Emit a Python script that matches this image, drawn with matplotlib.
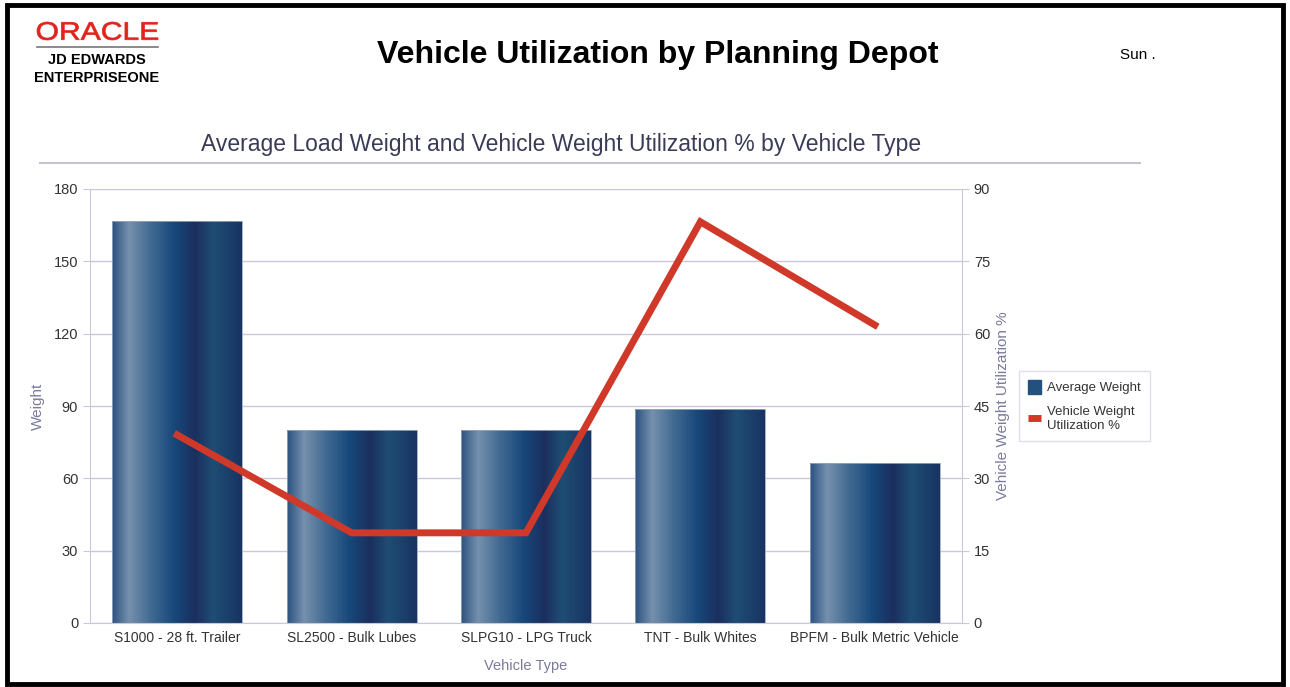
import numpy as np
import matplotlib.pyplot as plt
from matplotlib.colors import LinearSegmentedColormap
from matplotlib.patches import Rectangle, PathPatch
from matplotlib.lines import Line2D
from matplotlib.textpath import TextPath
from matplotlib.font_manager import FontProperties
from matplotlib.transforms import Affine2D

plt.rcParams['font.family'] = ['Liberation Sans', 'DejaVu Sans']

vehicle_types = ["S1000 - 28 ft. Trailer", "SL2500 - Bulk Lubes", "SLPG10 - LPG Truck",
                 "TNT - Bulk Whites", "BPFM - Bulk Metric Vehicle"]
avg_weight = [166.7, 80.0, 80.0, 88.8, 66.4]
utilization_pct = [39.0, 18.7, 18.7, 83.2, 61.8]
weight_ticks = [0, 30, 60, 90, 120, 150, 180]
util_ticks = [0, 15, 30, 45, 60, 75, 90]

grid_col = "#c9c9dc"
label_col = "#7a7a9c"
tick_col = "#333333"
line_col = "#d0392a"

# metallic blue shading across each bar
bar_cmap = LinearSegmentedColormap.from_list("bar", [
    (0.00, "#2b5280"), (0.13, "#7690ad"), (0.30, "#416a92"), (0.48, "#17487a"),
    (0.64, "#1b2f5e"), (0.78, "#1f4d74"), (1.00, "#183462")])

W, H = 1290, 687
fig = plt.figure(figsize=(W / 100, H / 100), dpi=100)


def px(xp, yp):
    return xp / W, 1 - yp / H


# page frame
fig.patches.append(Rectangle((7 / W, 3 / H), 1276 / W, 679 / H, transform=fig.transFigure,
                             fill=False, edgecolor="black", linewidth=3.5))

# logo wordmark, stretched wide (pixel coords)
logo = TextPath((0, 0), "ORACLE", size=24, prop=FontProperties(family="Liberation Sans"))
bb = logo.get_extents()
logo_tf = Affine2D().translate(-bb.x0, -bb.y0).scale(121 / bb.width, 18 / bb.height).translate(37, H - 40)
fig.patches.append(PathPatch(logo, transform=logo_tf, facecolor="#e2231a",
                             edgecolor="#e2231a", linewidth=0.5))
fig.add_artist(Line2D([37 / W, 158 / W], [1 - 47 / H] * 2, color="#777777", lw=1.2))
fig.text(*px(97, 60), "JD EDWARDS", fontsize=10.5, fontweight="bold", ha="center", va="center")
fig.text(*px(97, 78), "ENTERPRISEONE", fontsize=10.5, fontweight="bold", ha="center", va="center")
fig.text(*px(658, 55), "Vehicle Utilization by Planning Depot", fontsize=23,
         fontweight="bold", ha="center", va="center")
fig.text(*px(1120, 55), "Sun .", fontsize=11, ha="left", va="center")

fig.text(*px(561, 145),
         "Average Load Weight and Vehicle Weight Utilization % by Vehicle Type",
         fontsize=16.5, color="#3b3b58", ha="center", va="center")
fig.add_artist(Line2D([40 / W, 1140 / W], [1 - 163 / H] * 2, color="#c4c4d0", lw=1.5))

ax = fig.add_axes([90 / W, 1 - 623 / H, 872 / W, 434 / H])
x = np.arange(len(vehicle_types))
bars = ax.bar(x, avg_weight, width=0.745, color="none", edgecolor="#9aa6bf", linewidth=0.6, zorder=3)
grad = np.linspace(0, 1, 256).reshape(1, -1)
for b in bars:
    im = ax.imshow(grad, cmap=bar_cmap, aspect="auto", zorder=2,
                   extent=[b.get_x(), b.get_x() + b.get_width(), 0, b.get_height()])
    im.set_clip_path(b)

ax.set_xlim(-0.5, len(vehicle_types) - 0.5)
ax.set_ylim(0, 180)
ax.set_yticks(weight_ticks)
ax.set_xticks(x)
ax.set_xticklabels(vehicle_types)
ax.grid(axis="y", color=grid_col, lw=1, zorder=0)
ax.set_axisbelow(True)
for s in ["left", "bottom", "right"]:
    ax.spines[s].set_color(grid_col)
ax.spines["top"].set_visible(False)
ax.tick_params(axis="y", colors=grid_col, labelcolor=tick_col, labelsize=10.5, length=5)
ax.tick_params(axis="x", length=0, labelcolor=tick_col, labelsize=10, pad=6)
ax.set_xlabel("Vehicle Type", color=label_col, fontsize=10.5, labelpad=10)
ax.set_ylabel("Weight", color=label_col, fontsize=11, labelpad=6)

ax2 = ax.twinx()
ax2.plot(x, utilization_pct, color=line_col, lw=5, solid_joinstyle="miter", zorder=5)
ax2.set_ylim(0, 90)
ax2.set_yticks(util_ticks)
for s in ["left", "bottom", "right", "top"]:
    ax2.spines[s].set_visible(False)
ax2.tick_params(axis="y", colors=grid_col, labelcolor=tick_col, labelsize=10.5, length=5)
ax2.set_ylabel("Vehicle Weight Utilization %", color=label_col, fontsize=11, labelpad=4)

handles = [Rectangle((0, 0), 1, 1, facecolor="#24507e", edgecolor="#24507e"),
           Line2D([], [], color=line_col, lw=5, solid_capstyle="butt")]
leg = fig.legend(handles, ["Average Weight", "Vehicle Weight\nUtilization %"],
                 loc="upper left", bbox_to_anchor=px(1019, 371),
                 fontsize=9.5, frameon=True, fancybox=False, handlelength=1.0,
                 handleheight=1.2, handletextpad=0.4, borderpad=0.7, labelspacing=0.9,
                 borderaxespad=0)
leg.get_frame().set_edgecolor("#d8d8e2")
leg.get_frame().set_linewidth(1)
for t in leg.get_texts():
    t.set_color("#333333")

fig.savefig("out.png", dpi=100)
